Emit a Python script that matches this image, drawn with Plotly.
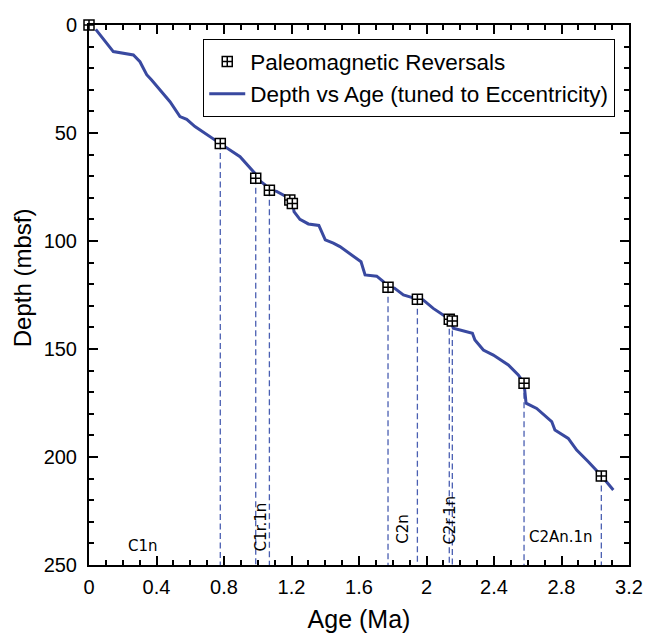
import plotly.graph_objects as go

# ---- data ----
curve_age = [0.04, 0.144, 0.263, 0.302, 0.322, 0.342, 0.371, 0.48, 0.539, 0.579, 0.628, 0.737,
             0.776, 0.895, 0.984, 0.99, 1.043, 1.067, 1.112, 1.17, 1.207, 1.215, 1.25, 1.30,
             1.362, 1.40, 1.448, 1.487, 1.557, 1.612, 1.636, 1.705, 1.744, 1.77, 1.81, 1.863,
             1.946, 1.98, 2.04, 2.10, 2.143, 2.159, 2.272, 2.287, 2.337, 2.396, 2.485, 2.544,
             2.578, 2.59, 2.653, 2.742, 2.761, 2.84, 2.89, 2.959, 3.038, 3.107]
curve_depth = [2.0, 12.3, 13.9, 17.0, 20.0, 23.0, 25.5, 35.5, 42.4, 43.7, 47.0, 52.9,
               54.8, 61.0, 68.7, 70.8, 74.0, 76.4, 77.0, 79.5, 82.0, 86.4, 90.0, 92.1,
               92.8, 99.5, 101.0, 102.6, 106.5, 109.6, 115.7, 116.3, 118.8, 121.4, 121.8, 125.0,
               126.9, 127.3, 131.2, 134.3, 136.6, 140.4, 142.7, 145.8, 150.5, 152.8, 157.4, 162.0,
               165.9, 175.1, 177.5, 183.6, 187.5, 191.4, 196.8, 202.2, 208.8, 215.3]

rev_age = [0.0, 0.778, 0.988, 1.069, 1.19, 1.205, 1.772, 1.946, 2.135, 2.153, 2.578, 3.036]
rev_depth = [0.0, 54.9, 71.0, 76.5, 81.0, 82.6, 121.4, 127.0, 136.2, 137.0, 165.9, 208.8]
rev_dashed = [False, True, True, True, False, False, True, True, True, True, True, True]

chron_names = ["C1n", "C1r.1n", "C2n", "C2r.1n", "C2An.1n"]
chron_age = [0.32, 1.017, 1.863, 2.139, 2.797]
chron_depth = [241.0, 232.3, 233.0, 229.0, 236.9]
chron_angle = [0, -90, -90, -90, 0]

x_tickvals = [0, 0.4, 0.8, 1.2, 1.6, 2.0, 2.4, 2.8, 3.2]
x_ticktext = ["0", "0.4", "0.8", "1.2", "1.6", "2", "2.4", "2.8", "3.2"]
y_tickvals = [0, 50, 100, 150, 200, 250]
y_ticktext = ["0", "50", "100", "150", "200", "250"]

DEPTH_MAX = 250

# ---- build figure ----
LINE_COLOR = "#3949a0"
DASH_COLOR = "#4a5fb2"
FONT = "Liberation Sans, Arial, Helvetica, sans-serif"

dx, dy = [], []
for a, d, f in zip(rev_age, rev_depth, rev_dashed):
    if f:
        dx += [a, a, None]
        dy += [d, DEPTH_MAX, None]

fig = go.Figure()
fig.add_trace(go.Scatter(x=dx, y=dy, mode="lines", showlegend=False, hoverinfo="skip",
                         line=dict(color=DASH_COLOR, width=1.3, dash="6px,3.5px")))
fig.add_trace(go.Scatter(x=curve_age, y=curve_depth, mode="lines",
                         name="Depth vs Age (tuned to Eccentricity)", legendrank=2,
                         line=dict(color=LINE_COLOR, width=3)))
fig.add_trace(go.Scatter(x=rev_age, y=rev_depth, mode="markers",
                         name="Paleomagnetic Reversals", legendrank=1, cliponaxis=False,
                         marker=dict(symbol="square-cross", size=10, color="white",
                                     line=dict(color="black", width=1.5))))

for n, a, d, ang in zip(chron_names, chron_age, chron_depth, chron_angle):
    fig.add_annotation(x=a, y=d, xref="x", yref="y", text=n, showarrow=False,
                       textangle=ang, font=dict(family="DejaVu Sans, sans-serif", size=15, color="black"))

fig.add_annotation(x=-0.124, y=0.531, xref="paper", yref="paper", text="Depth (mbsf)",
                   showarrow=False, textangle=-90, xanchor="center", yanchor="middle",
                   font=dict(family=FONT, size=24, color="black"))

axis_common = dict(showline=True, linecolor="black", linewidth=2, mirror="ticks",
                   ticks="inside", ticklen=9, tickwidth=1.5, tickcolor="black", automargin=False,
                   showgrid=False, zeroline=False, tickfont=dict(family=FONT, size=20, color="black"))

fig.update_xaxes(range=[0, 3.2], tickmode="array", tickvals=x_tickvals, ticktext=x_ticktext,
                 minor=dict(tickmode="linear", tick0=0, dtick=0.1, ticks="inside", ticklen=5,
                            tickwidth=1.5, tickcolor="black", showgrid=False),
                 title=dict(text="Age (Ma)", font=dict(family=FONT, size=25, color="black"), standoff=14),
                 ticklabelstandoff=3, **axis_common)
fig.update_yaxes(range=[DEPTH_MAX, 0], tickmode="array", tickvals=y_tickvals, ticktext=y_ticktext,
                 minor=dict(tickmode="linear", tick0=0, dtick=10, ticks="inside", ticklen=5,
                            tickwidth=1.5, tickcolor="black", showgrid=False),
                 ticklabelstandoff=6, **axis_common)

fig.update_layout(
    width=647, height=633,
    margin=dict(l=89, r=18, t=25, b=68, autoexpand=False),
    paper_bgcolor="white", plot_bgcolor="white",
    font=dict(family=FONT, color="black"),
    legend=dict(x=0.211, y=0.974, xanchor="left", yanchor="top", itemwidth=36,
                bgcolor="white", bordercolor="black", borderwidth=1.3,
                font=dict(family=FONT, size=22.5, color="black")),
)

fig.write_html("out.html")
